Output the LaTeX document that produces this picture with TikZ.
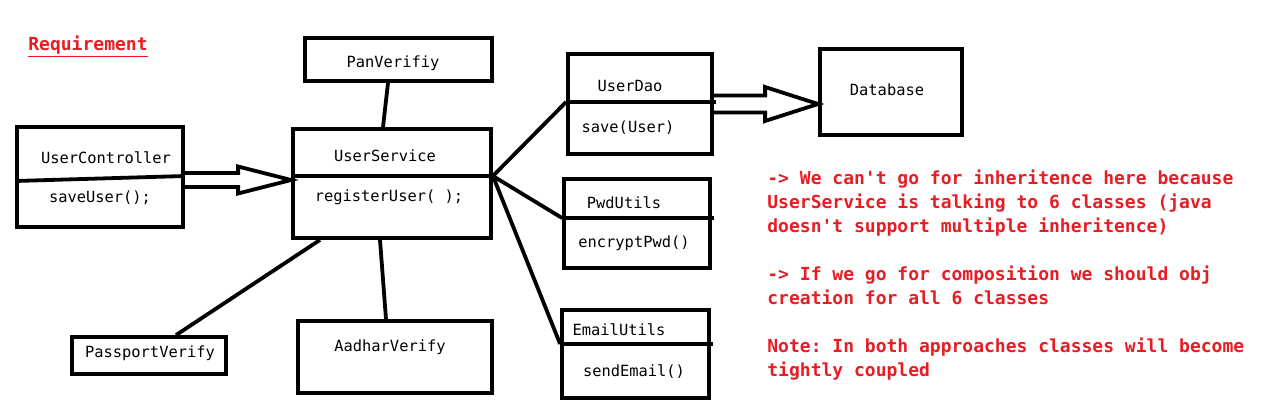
\documentclass[tikz,border=0pt]{standalone}
\usepackage{fontspec}
\setmonofont{DejaVu Sans Mono}
\usepackage{xcolor}
\definecolor{notered}{RGB}{232,28,36}
\usetikzlibrary{calc}
\usetikzlibrary{positioning}

\begin{document}
\begin{tikzpicture}[x=0.5pt,y=-0.5pt,
	class_box/.style={draw,line width=1.9pt,inner sep=0pt},
	class_text/.style={font=\ttfamily\fontsize{7.7}{9}\selectfont,inner sep=0pt},
	red_text/.style={font=\ttfamily\bfseries\fontsize{9}{12}\selectfont,text=notered,inner sep=0pt,align=left},
	thick_line/.style={line width=1.9pt,line join=miter}]
	
	\useasboundingbox[fill=white] (0,0) rectangle (1280,412);
	
	\node[class_box, minimum width=83pt, minimum height=50pt] (ctrl) at (100,177) {};
	\node[class_box, minimum width=99pt, minimum height=54.5pt] (svc) at (392,183.5) {};
	\node[class_box, minimum width=93.5pt, minimum height=21.5pt] (pan) at (398.5,59.5) {};
	\node[class_box, minimum width=72pt, minimum height=50pt] (dao) at (640,104) {};
	\node[class_box, minimum width=71pt, minimum height=43pt] (db) at (891,92) {};
	\node[class_box, minimum width=73pt, minimum height=44.5pt] (pwd) at (637,223.5) {};
	\node[class_box, minimum width=73.5pt, minimum height=44pt] (email) at (635.5,354) {};
	\node[class_box, minimum width=77pt, minimum height=18.5pt] (pass) at (149,355.5) {};
	\node[class_box, minimum width=97pt, minimum height=36pt] (aadhar) at (395,357) {};
	
	\node[class_text] (ctrlname) at (106,158) {UserController};
	\node[class_text] (ctrlop) at (100,198) {saveUser();};
	\node[class_text] (svcname) at (385,156) {UserService};
	\node[class_text] (svcop) at (389,197) {registerUser( );};
	\node[class_text] (panname) at (393,63) {PanVerifiy};
	\node[class_text] (daoname) at (630,86) {UserDao};
	\node[class_text] (daoop) at (628,128) {save(User)};
	\node[class_text] (dbname) at (887,90) {Database};
	\node[class_text] (pwdname) at (624,203) {PwdUtils};
	\node[class_text] (pwdop) at (634,243) {encryptPwd()};
	\node[class_text] (emailname) at (619,330) {EmailUtils};
	\node[class_text] (emailop) at (634,372) {sendEmail()};
	\node[class_text] (passname) at (150,353) {PassportVerify};
	\node[class_text] (aadharname) at (390,347) {AadharVerify};
	
	\node[red_text, anchor=base west] (req) at (28,50) {\underline{Requirement}};
	\node[red_text, anchor=north west] (note) at (767,169) {%
		-> We can't go for inheritence here because\\
		UserService is talking to 6 classes (java\\
		doesn't support multiple inheritence)\\[12pt]
		-> If we go for composition we should obj\\
		creation for all 6 classes\\[12pt]
		Note: In both approaches classes will become\\
		tightly coupled};
	
	\coordinate (ctrldiv) at (ctrl.west |- 0,181);
	\coordinate (svcdiv) at (svc.west |- 0,176);
	\coordinate (hub) at (svc.east |- 0,176);
	\coordinate (daodiv) at (dao.west |- 0,102);
	\coordinate (pwddiv) at (pwd.west |- 0,218);
	\coordinate (emaildiv) at (email.west |- 0,344);
	
	\draw[thick_line] (ctrldiv) -- ($(ctrl.east |- 0,176)$);
	\draw[thick_line] (svcdiv) -- (hub);
	\draw[thick_line] (daodiv) -- ($(dao.east |- daodiv)+(2,0)$);
	\draw[thick_line] (pwddiv) -- ($(pwd.east |- pwddiv)+(2,0)$);
	\draw[thick_line] (emaildiv) -- ($(email.east |- emaildiv)+(2,0)$);
	
	\draw[thick_line] ([xshift=-5.25pt]pan.south) -- ([xshift=-4.5pt]svc.north);
	\draw[thick_line] (hub) -- (daodiv);
	\draw[thick_line] (hub) -- (pwddiv);
	\draw[thick_line] (hub) -- (emaildiv);
	\draw[thick_line] ([xshift=-36pt]svc.south) -- ([xshift=13.5pt]pass.north);
	\draw[thick_line] ([xshift=-6pt]svc.south) -- ([xshift=-4.5pt]aadhar.north);
	
	\draw[thick_line] ($(ctrl.east |- 0,180)+(0,-7)$) -- ($(svc.west |- 0,180)+(-53,-7)$) -- ++(0,-6.5)
		-- (svc.west |- 0,180) -- ($(svc.west |- 0,180)+(-53,13.5)$) -- ++(0,-6.5) -- ($(ctrl.east |- 0,180)+(0,7)$);
	\draw[thick_line] ($(dao.east)+(0,-8.5)$) -- ($(db.west |- dao.east)+(-53,-8.5)$) -- ++(0,-8.5)
		-- (db.west |- dao.east) -- ($(db.west |- dao.east)+(-53,17)$) -- ++(0,-8.5) -- ($(dao.east)+(0,8.5)$);
\end{tikzpicture}
\end{document}
